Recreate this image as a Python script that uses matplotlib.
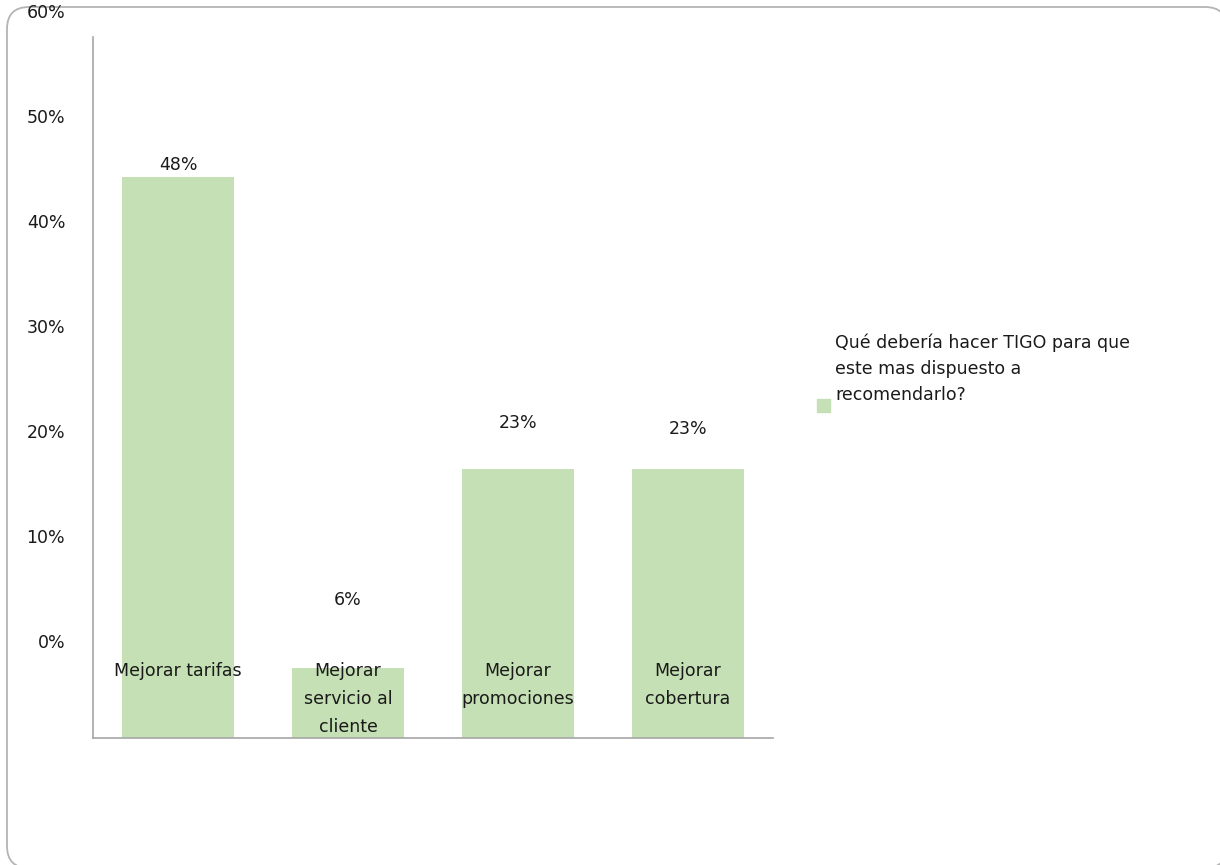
import matplotlib.pyplot as plt
from matplotlib.patches import FancyBboxPatch, Rectangle
from matplotlib.transforms import blended_transform_factory, IdentityTransform

# Survey results: what TIGO should do so the customer recommends it
categories = ["Mejorar tarifas", "Mejorar\nservicio al\ncliente",
              "Mejorar\npromociones", "Mejorar\ncobertura"]
values = [48, 6, 23, 23]
value_labels = ["48%", "6%", "23%", "23%"]
series_name = "Qué debería hacer TIGO para que\neste mas dispuesto a\nrecomendarlo?"
tick_labels = ["0%", "10%", "20%", "30%", "40%", "50%", "60%"]

bar_color = "#C5E0B4"
axis_color = "#A6A6A6"
text_color = "#1A1A1A"
fs = 12.5

W, H = 1220, 865
fig = plt.figure(figsize=(W / 100, H / 100), dpi=100)

# rounded chart-area frame in pixels; right and bottom run past the edge.
# filled so Agg does not clip the curved corners as straight segments
frame = FancyBboxPatch((7, -3), 1220, H - 7 + 3,
                       boxstyle="round,pad=0,rounding_size=22",
                       transform=IdentityTransform(), facecolor="white",
                       edgecolor="#B4B4B4", linewidth=1.3, zorder=-1)
fig.patches.append(frame)

ax = fig.add_axes([93 / W, (H - 738) / H, 680 / W, 736 / H])
ax.patch.set_alpha(0)
x = range(len(values))
ax.bar(x, values, width=0.66, color=bar_color, zorder=2)
ax.set_xlim(-0.5, 3.5)
ax.set_ylim(0, 63)

for s in ["top", "right"]:
    ax.spines[s].set_visible(False)
ax.spines["left"].set_bounds(0, 60)
for s in ["left", "bottom"]:
    ax.spines[s].set_color(axis_color)
    ax.spines[s].set_linewidth(1.2)

# value axis labels sit higher than the bar scale
label_base, label_step = 8.3, 0.899
ax.set_yticks([label_base + label_step * float(t.rstrip("%")) for t in tick_labels])
ax.set_yticklabels(tick_labels, fontsize=fs, color=text_color)
ax.tick_params(axis="y", length=0, pad=20)
ax.set_xticks([])

# data labels above each bar
label_offsets = [12, 68, 46, 40]
for xi, v, lab, off in zip(x, values, value_labels, label_offsets):
    ax.annotate(lab, (xi, v), xytext=(0, off), textcoords="offset pixels",
                ha="center", va="center", fontsize=fs, color=text_color)

# category names drawn inside the plot area
trans = blended_transform_factory(ax.transData, ax.transAxes)
for xi, cat in zip(x, categories):
    ax.text(xi, (738 - 662) / 736, cat, transform=trans, ha="center", va="top",
            fontsize=fs, color=text_color, linespacing=1.7)

# legend: swatch next to the last line of the series name
fig.text(835 / W, 1 - 333 / H, series_name, ha="left", va="top",
         fontsize=fs, color=text_color, linespacing=1.6)
fig.patches.append(Rectangle((817 / W, 1 - 412 / H), 13 / W, 13 / H,
                             transform=fig.transFigure, color=bar_color))

fig.savefig("out.png", dpi=100)
